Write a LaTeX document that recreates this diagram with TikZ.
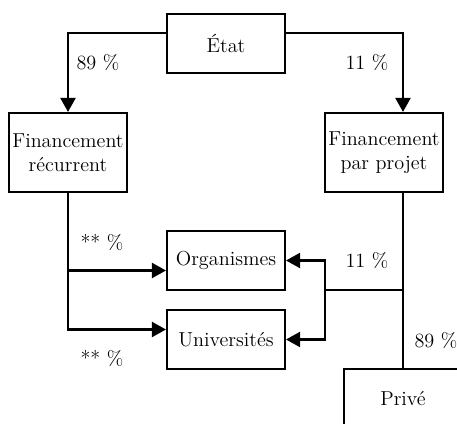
\documentclass[tikz,border=0pt]{standalone}
\usepackage{fontspec}
\usetikzlibrary{positioning,arrows.meta}

\begin{document}
\begin{tikzpicture}[
                        every node/.style={font=\fontsize{11.5}{13.5}\selectfont},
                        fundbox/.style={rectangle, draw=black, line width=1.2pt, minimum width=2.36cm, minimum height=1.18cm, inner sep=0pt, align=center},
                        tallbox/.style={fundbox, minimum height=1.58cm},
                        fundarrow/.style={-{Triangle[length=0.28cm, width=0.3cm]}, line width=1.2pt},
                        fundline/.style={line width=1.2pt}
                    ]
                        \useasboundingbox (0,0) rectangle (9.14,-8.48);
                        \clip (0,0) rectangle (9.14,-8.48);
                        \node[fundbox] (etat) at (4.52,-0.87) {État};
                        \node[tallbox] (recurrent) at (1.36,-3.05) {Financement\\récurrent};
                        \node[tallbox] (projet) at (7.68,-3.05) {Financement\\par projet};
                        \node[fundbox] (organismes) at (4.52,-5.21) {Organismes};
                        \node[fundbox] (universites) at (4.52,-6.79) {Universités};
                        \node[fundbox] (prive) at (8.06,-7.97) {Privé};
                        \coordinate (split) at (6.5,-5.8);
                        \draw[fundarrow] ([yshift=0.21cm]etat.west) -| (recurrent.north);
                        \draw[fundarrow] ([yshift=0.21cm]etat.east) -| (prive.north |- projet.north);
                        \draw[fundarrow] (recurrent.south) |- ([yshift=-0.2cm]organismes.west);
                        \draw[fundarrow] (recurrent.south) |- ([yshift=0.2cm]universites.west);
                        \draw[fundline] (prive.north |- projet.south) -- (prive.north);
                        \draw[fundline] (prive.north |- split) -- (split);
                        \draw[fundarrow] (split) |- (organismes.east);
                        \draw[fundarrow] (split) |- (universites.east);
                        \node (etatrec) at (1.96,-1.24) {89 \%};
                        \node (etatproj) at (7.34,-1.24) {11 \%};
                        \node (recorg) at (2.04,-4.84) {** \%};
                        \node (recuni) at (2.04,-7.16) {** \%};
                        \node (projpub) at (7.34,-5.2) {11 \%};
                        \node (projpriv) at (8.72,-6.8) {89 \%};
                    \end{tikzpicture}
\end{document}
